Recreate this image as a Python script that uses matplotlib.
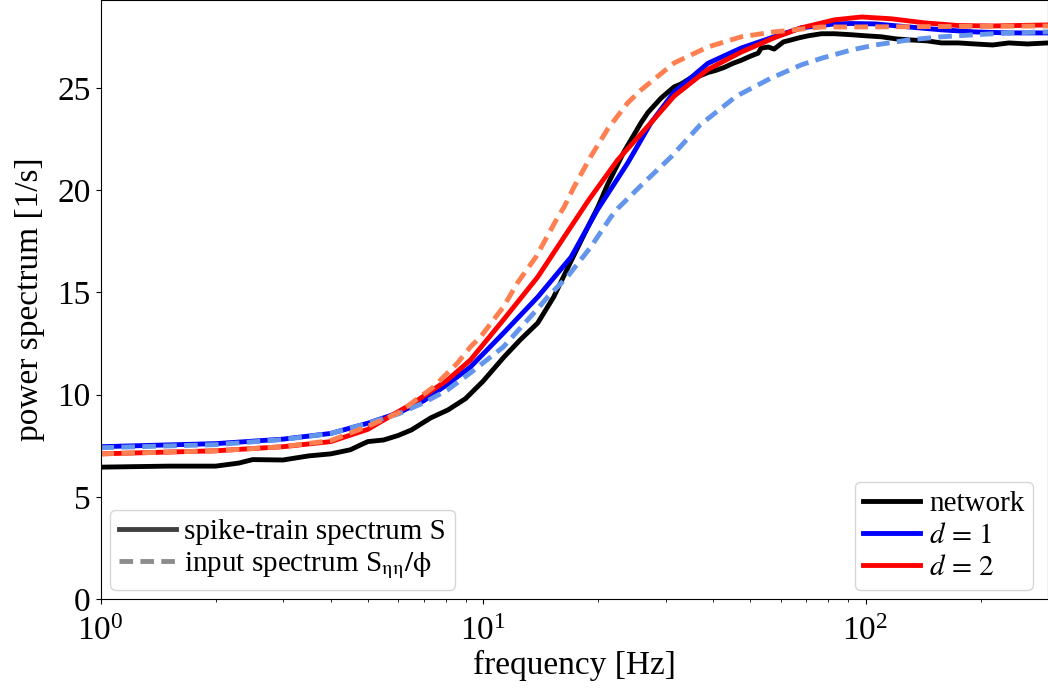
import matplotlib
matplotlib.use("Agg")
import matplotlib.pyplot as plt
from matplotlib.lines import Line2D

plt.rcParams["font.family"] = "serif"
plt.rcParams["font.serif"] = ["Liberation Serif", "DejaVu Serif"]
plt.rcParams["mathtext.fontset"] = "stix"

# network (simulation)
f_net = [1.0, 1.5, 2.0, 2.3, 2.5, 3.0, 3.5, 4.0, 4.5, 4.8, 5.0, 5.5, 6.0, 6.5,
         7.3, 8.1, 9.0, 10.0, 11.3, 12.5, 13.9, 15.3, 16.9, 18.8, 20.0, 21.2,
         23.4, 25.9, 27.0, 29.2, 31.6, 33.0, 35.0, 37.0, 38.7, 40.5, 42.7, 45.0,
         47.3, 50.0, 52.4, 53.4, 55.7, 57.7, 61.0, 64.0, 67.0, 70.9, 76.7, 83.0,
         92.0, 100.0, 110.0, 120.0, 130.0, 145.0, 158.0, 175.0, 193.0, 215.0,
         237.0, 265.0, 300.0]
s_net = [6.45, 6.5, 6.5, 6.65, 6.82, 6.8, 7.0, 7.1, 7.3, 7.55, 7.7, 7.78, 8.0, 8.27,
         8.86, 9.25, 9.8, 10.65, 11.8, 12.67, 13.5, 14.77, 16.44, 18.2, 19.2, 20.3,
         21.9, 23.3, 23.8, 24.5, 25.05, 25.2, 25.5, 25.6, 25.75, 25.85, 26.0, 26.2,
         26.35, 26.55, 26.7, 26.95, 27.0, 26.9, 27.25, 27.35, 27.45, 27.55, 27.65, 27.65,
         27.6, 27.55, 27.5, 27.4, 27.35, 27.3, 27.2, 27.2, 27.15, 27.1,
         27.2, 27.15, 27.2]

# theory d = 1
f_d1 = [1.0, 2.0, 3.0, 4.0, 5.0, 6.0, 7.0, 8.07, 9.27, 11.3, 13.9, 17.0, 19.9,
        23.9, 27.5, 31.6, 38.7, 47.3, 57.7, 68.0, 83.0, 92.0, 106.0, 130.0,
        158.0, 193.0, 237.0, 300.0]
s_d1 = [7.45, 7.6, 7.82, 8.1, 8.6, 9.1, 9.7, 10.5, 11.35, 13.0, 14.77, 16.73, 19.03,
        21.33, 23.3, 24.8, 26.2, 26.95, 27.5, 27.94, 28.13, 28.15, 28.13, 27.98,
        27.84, 27.74, 27.69, 27.69]

# theory d = 2
f_d2 = [1.0, 2.0, 3.0, 4.0, 5.0, 5.39, 6.58, 8.07, 9.27, 11.3, 13.9, 16.3, 18.9,
        22.5, 27.5, 31.6, 38.7, 47.3, 57.7, 68.0, 83.0, 97.7, 117.0, 143.0,
        175.0, 214.0, 300.0]
s_d2 = [7.1, 7.25, 7.45, 7.7, 8.3, 8.66, 9.59, 10.71, 11.69, 13.65, 15.75, 17.71, 19.52,
        21.48, 23.3, 24.6, 25.9, 26.75, 27.45, 27.94, 28.33, 28.47, 28.38, 28.18,
        28.05, 28.03, 28.08]

# input spectra (dashed)
f_in1 = [1.0, 2.0, 3.0, 4.0, 5.0, 6.0, 7.0, 8.07, 9.27, 11.3, 13.9, 14.8, 16.6,
         19.1, 21.6, 22.5, 26.3, 31.0, 37.0, 46.0, 56.5, 68.0, 76.7, 92.0, 106.0,
         130.0, 158.0, 193.0, 237.0, 300.0]
s_in1 = [7.4, 7.55, 7.8, 8.1, 8.6, 9.05, 9.6, 10.22, 11.06, 12.33, 14.2, 14.8, 15.75,
         17.2, 18.69, 19.1, 20.35, 21.62, 23.2, 24.6, 25.47, 26.13, 26.45, 26.86, 27.1,
         27.35, 27.5, 27.6, 27.69, 27.74]

f_in2 = [1.0, 2.0, 3.0, 4.0, 5.0, 6.0, 7.42, 8.58, 9.27, 9.85, 11.3, 12.3, 13.75,
         15.7, 16.3, 17.3, 19.1, 21.2, 23.9, 25.9, 31.6, 38.7, 47.3, 57.7, 76.7,
         92.0, 150.0, 300.0]
s_in2 = [7.1, 7.25, 7.45, 7.75, 8.45, 9.1, 10.37, 11.55, 12.33, 12.82, 14.28, 15.46, 16.73,
         18.69, 19.18, 20.16, 21.62, 23.0, 24.27, 24.9, 26.22, 27.0, 27.5, 27.74, 27.98,
         27.98, 28.0, 28.03]

fig = plt.figure(figsize=(10.48, 6.95), dpi=100)
ax = fig.add_axes([0.0959, 0.1381, 0.9041, 0.8619])

lw = 3.5
dash = (2.8, 1.5)
ax.plot(f_net, s_net, color="black", lw=lw)
ax.plot(f_d1, s_d1, color="blue", lw=lw)
ax.plot(f_d2, s_d2, color="red", lw=lw)
ax.plot(f_in1, s_in1, color="cornflowerblue", lw=lw, ls="--", dashes=dash)
ax.plot(f_in2, s_in2, color="coral", lw=lw, ls="--", dashes=dash)

ax.set_xscale("log")
ax.set_xlim(1, 300)
ax.set_ylim(0, 29.3)
ax.set_yticks([0, 5, 10, 15, 20, 25])
ax.tick_params(labelsize=24)
ax.tick_params(axis="x", pad=9)
ax.set_xlabel("frequency [Hz]", fontsize=24, labelpad=2)
ax.set_ylabel("power spectrum [1/s]", fontsize=24, labelpad=9)

leg_kw = dict(fontsize=21, bbox_transform=fig.transFigure, borderaxespad=0,
              handlelength=1.95, labelspacing=0.2, borderpad=0.3, handletextpad=0.3)

h_color = [Line2D([], [], color="black", lw=lw),
           Line2D([], [], color="blue", lw=lw),
           Line2D([], [], color="red", lw=lw)]
leg1 = ax.legend(h_color, ["network", r"$d\,=\,1$", r"$d\,=\,2$"],
                 loc="lower right", bbox_to_anchor=(1033 / 1048, 105 / 695), **leg_kw)
ax.add_artist(leg1)

h_style = [Line2D([], [], color="0.25", lw=lw),
           Line2D([], [], color="0.55", lw=lw, ls="--", dashes=dash)]
ax.legend(h_style, ["spike-train spectrum S",
                    r"input spectrum S$_{\mathrm{\eta\eta}}/\mathrm{\phi}$"],
          loc="lower left", bbox_to_anchor=(110 / 1048, 105 / 695), **leg_kw)

fig.savefig("out.png", dpi=100)
